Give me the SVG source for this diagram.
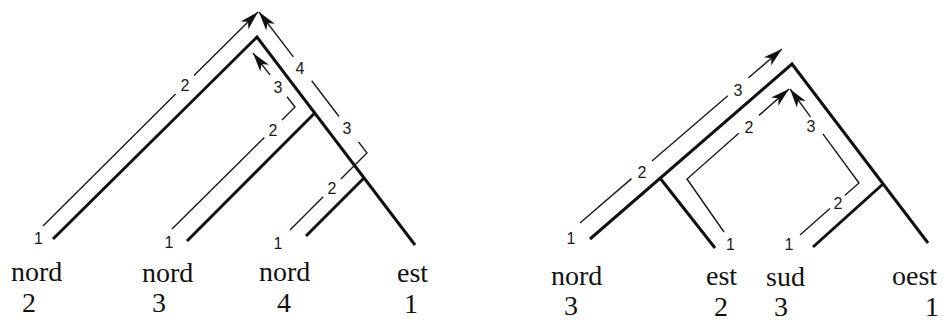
<svg xmlns="http://www.w3.org/2000/svg" width="943" height="321" viewBox="0 0 943 321">
<style>
.tree{fill:none;stroke:#111;stroke-width:3;stroke-linecap:butt;stroke-linejoin:miter}
.path{fill:none;stroke:#1a1a1a;stroke-width:1.4;stroke-linejoin:miter}
.arr{marker-end:url(#ah)}
.num{font-family:Liberation Sans, Arial, sans-serif;font-size:16px;fill:#1a1a1a;text-anchor:middle}
.lbl{font-family:Liberation Serif, Times New Roman, serif;font-size:28px;fill:#111}
</style>
<defs>
<marker id="ah" markerUnits="userSpaceOnUse" orient="auto" refX="0" refY="0" markerWidth="30" markerHeight="30" overflow="visible">
<path d="M0,0 L-19,-5.5 L-14,0 L-19,5.5 Z" fill="#111"/>
</marker>
</defs>
<rect width="943" height="321" fill="#fff"/>
<g id="connectors">
<g id="tree-left">
<path class="tree" d="M53,239 L257,37 L415,245"/>
<path class="tree" d="M314.8,113 L187,241"/>
<path class="tree" d="M364,178 L306,236"/>
</g>
<g id="tree-right">
<path class="tree" d="M590,239 L792,64 L928,243"/>
<path class="tree" d="M660,178 L715,248"/>
<path class="tree" d="M883,184 L813,247"/>
</g>
<g id="routes-left">
<path class="path" d="M43,226 L175.6,94"/>
<path class="path arr" d="M194,75.6 L258,12"/>
<path class="path" d="M172,229 L264.3,137.5"/>
<path class="path" d="M282,119.9 L295,107 L287,96.7"/>
<path class="path arr" d="M270,74.9 L253,53"/>
<path class="path" d="M290,230 L323.2,196.8"/>
<path class="path" d="M340.9,179.1 L367,153 L358.5,141.9"/>
<path class="path" d="M339,116.5 L311.7,80.8"/>
<path class="path arr" d="M293.4,56.9 L259,12"/>
</g>
<g id="routes-right">
<path class="path" d="M580,223 L631.5,178.6"/>
<path class="path" d="M652,161 L727.8,95.7"/>
<path class="path arr" d="M748.3,78 L782,49"/>
<path class="path" d="M724,232 L687,179 L738.8,133.3"/>
<path class="path arr" d="M759,115.4 L789,89"/>
<path class="path" d="M800,235 L830,208.5"/>
<path class="path" d="M845,195.3 L859,183 L822.9,133.8"/>
<path class="path arr" d="M810.5,116.9 L790,89"/>
</g>
</g>
<g id="step-labels">
<text class="num" x="38.5" y="243.5">1</text>
<text class="num" x="185" y="90.5">2</text>
<text class="num" x="169" y="247.5">1</text>
<text class="num" x="273" y="135.5">2</text>
<text class="num" x="278" y="92.5">3</text>
<text class="num" x="278" y="248.5">1</text>
<text class="num" x="332" y="193.5">2</text>
<text class="num" x="347" y="133.5">3</text>
<text class="num" x="300" y="73.5">4</text>
<text class="num" x="571" y="243.5">1</text>
<text class="num" x="642" y="177.5">2</text>
<text class="num" x="738" y="95.5">3</text>
<text class="num" x="730.5" y="249.5">1</text>
<text class="num" x="749" y="132.5">2</text>
<text class="num" x="789" y="249.5">1</text>
<text class="num" x="838" y="208.5">2</text>
<text class="num" x="811" y="131.5">3</text>
</g>
<g id="leaf-nord2"><text class="lbl" x="11" y="281">nord</text><text class="lbl" x="22" y="312">2</text></g>
<g id="leaf-nord3"><text class="lbl" x="142" y="282">nord</text><text class="lbl" x="152" y="312">3</text></g>
<g id="leaf-nord4"><text class="lbl" x="259" y="281">nord</text><text class="lbl" x="277" y="312">4</text></g>
<g id="leaf-est1"><text class="lbl" x="397" y="282">est</text><text class="lbl" x="404" y="313">1</text></g>
<g id="leaf-nord3r"><text class="lbl" x="551" y="285">nord</text><text class="lbl" x="564" y="315">3</text></g>
<g id="leaf-est2"><text class="lbl" x="706" y="285">est</text><text class="lbl" x="714" y="316">2</text></g>
<g id="leaf-sud3"><text class="lbl" x="766" y="286">sud</text><text class="lbl" x="774" y="316">3</text></g>
<g id="leaf-oest1"><text class="lbl" x="892" y="285">oest</text><text class="lbl" x="925" y="316">1</text></g>
</svg>
